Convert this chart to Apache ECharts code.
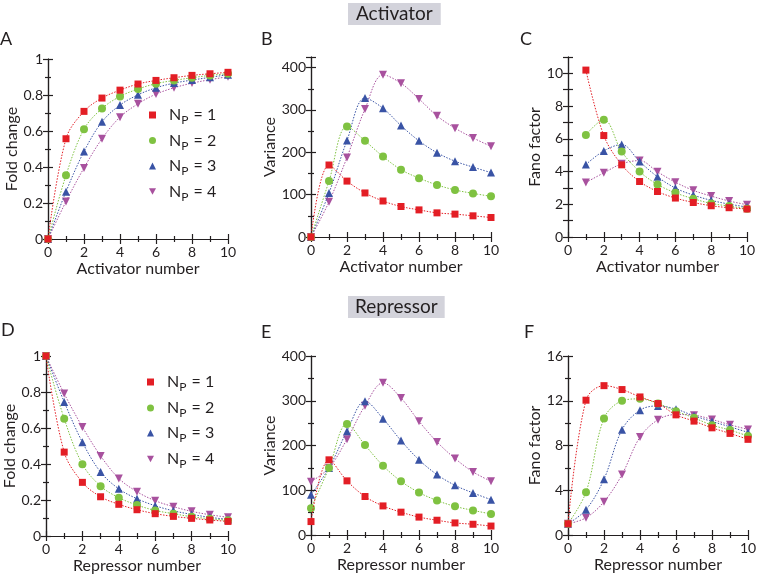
<!DOCTYPE html>
<html>
<head>
<meta charset="utf-8">
<script src="https://cdn.jsdelivr.net/npm/echarts@6/dist/echarts.min.js"></script>
<style>
html,body{margin:0;padding:0;background:#fff;}
#chart{width:757px;height:576px;}
</style>
</head>
<body>
<div id="chart"></div>
<script>
// ---------- data ----------
const xNumbers = [0, 1, 2, 3, 4, 5, 6, 7, 8, 9, 10];
const xNumbersFano = [1, 2, 3, 4, 5, 6, 7, 8, 9, 10];
const seriesNames = ['N_P = 1', 'N_P = 2', 'N_P = 3', 'N_P = 4'];

// A: activator fold change
const foldActNP1 = [0, 0.557, 0.709, 0.783, 0.827, 0.861, 0.881, 0.896, 0.909, 0.918, 0.926];
const foldActNP2 = [0, 0.354, 0.610, 0.725, 0.792, 0.833, 0.863, 0.881, 0.896, 0.909, 0.918];
const foldActNP3 = [0, 0.263, 0.486, 0.651, 0.744, 0.801, 0.840, 0.866, 0.883, 0.898, 0.913];
const foldActNP4 = [0, 0.208, 0.395, 0.557, 0.677, 0.751, 0.805, 0.840, 0.866, 0.885, 0.902];
// B: activator variance
const varActNP1 = [0, 170, 132, 104, 85, 72, 64, 57, 54, 50, 46];
const varActNP2 = [0, 132, 261, 227, 190, 159, 139, 123, 111, 103, 96];
const varActNP3 = [0, 104, 228, 328, 304, 263, 227, 199, 179, 165, 152];
const varActNP4 = [0, 83, 188, 302, 383, 363, 326, 286, 257, 234, 214];
// C: activator Fano factor (x = 1..10)
const fanoActNP1 = [10.2, 6.2, 4.41, 3.39, 2.78, 2.38, 2.11, 1.91, 1.79, 1.71];
const fanoActNP2 = [6.24, 7.17, 5.22, 4.0, 3.21, 2.70, 2.34, 2.05, 1.89, 1.73];
const fanoActNP3 = [4.43, 5.26, 5.65, 4.61, 3.68, 2.99, 2.56, 2.24, 2.01, 1.83];
const fanoActNP4 = [3.33, 3.92, 4.47, 4.67, 3.98, 3.35, 2.85, 2.50, 2.20, 1.97];
// D: repressor fold change
const foldRepNP1 = [1, 0.466, 0.298, 0.218, 0.176, 0.146, 0.124, 0.109, 0.098, 0.089, 0.081];
const foldRepNP2 = [1, 0.652, 0.399, 0.277, 0.213, 0.172, 0.142, 0.124, 0.107, 0.096, 0.087];
const foldRepNP3 = [1, 0.745, 0.521, 0.355, 0.262, 0.207, 0.168, 0.140, 0.120, 0.104, 0.092];
const foldRepNP4 = [1, 0.791, 0.606, 0.445, 0.320, 0.246, 0.196, 0.163, 0.137, 0.118, 0.104];
// E: repressor variance
const varRepNP1 = [30, 168, 121, 86, 65, 51, 40, 33, 27, 24, 20];
const varRepNP2 = [60, 150, 248, 201, 155, 120, 95, 77, 64, 55, 47];
const varRepNP3 = [90, 150, 232, 299, 260, 211, 168, 135, 111, 94, 79];
const varRepNP4 = [119, 150, 214, 289, 340, 306, 254, 208, 171, 141, 120];
// F: repressor Fano factor
const fanoRepNP1 = [1, 12.05, 13.35, 13.0, 12.34, 11.75, 10.74, 10.18, 9.58, 9.08, 8.55];
const fanoRepNP2 = [1, 3.83, 10.42, 11.99, 12.17, 11.75, 11.07, 10.47, 9.82, 9.38, 8.84];
const fanoRepNP3 = [1, 2.26, 4.99, 9.41, 11.16, 11.54, 11.25, 10.65, 10.15, 9.67, 9.17];
const fanoRepNP4 = [1, 1.54, 2.97, 5.40, 8.75, 10.30, 10.77, 10.71, 10.33, 9.85, 9.44];

// tick labels
const xTickLabels = ['0', '2', '4', '6', '8', '10'];

// ---------- styling ----------
const FONT = 'Lato';
const INK = '#231f20';
const colors = ['#e31e25', '#7fc241', '#3953a5', '#a8519e'];
const symbols = ['rect', 'circle', 'triangle', 'triangle'];
const symbolRot = [0, 0, 0, 180];
const symbolSizes = [7, 8, 8, 8];
const legendIcons = ['rect', 'circle', 'triangle', 'path://M0,0L10,0L5,9Z'];

const panels = [
  { grid: { left: 48, top: 59, width: 180, height: 180 }, ymin: 0, ymax: 1, yint: 0.2, ystep: 0.2,
    xName: 'Activator number', yName: 'Fold change', yGap: 24, xs: xNumbers,
    data: [foldActNP1, foldActNP2, foldActNP3, foldActNP4] },
  { grid: { left: 311, top: 57, width: 180, height: 180 }, ymin: 0, ymax: 425, yint: 100, ystep: 100,
    xName: 'Activator number', yName: 'Variance', yGap: 31, xs: xNumbers,
    data: [varActNP1, varActNP2, varActNP3, varActNP4] },
  { grid: { left: 568, top: 57, width: 179, height: 180 }, ymin: 0, ymax: 11, yint: 1, ystep: 2,
    xName: 'Activator number', yName: 'Fano factor', yGap: 21, xs: xNumbersFano,
    data: [fanoActNP1, fanoActNP2, fanoActNP3, fanoActNP4] },
  { grid: { left: 46, top: 356, width: 182, height: 180 }, ymin: 0, ymax: 1, yint: 0.2, ystep: 0.2,
    xName: 'Repressor number', yName: 'Fold change', yGap: 25, xs: xNumbers,
    data: [foldRepNP1, foldRepNP2, foldRepNP3, foldRepNP4] },
  { grid: { left: 311, top: 356, width: 180, height: 179 }, ymin: 0, ymax: 400, yint: 100, ystep: 100,
    xName: 'Repressor number', yName: 'Variance', yGap: 31, xs: xNumbers,
    data: [varRepNP1, varRepNP2, varRepNP3, varRepNP4] },
  { grid: { left: 568, top: 356, width: 180, height: 179 }, ymin: 0, ymax: 16, yint: 4, ystep: 4,
    xName: 'Repressor number', yName: 'Fano factor', yGap: 23, xs: xNumbers,
    data: [fanoRepNP1, fanoRepNP2, fanoRepNP3, fanoRepNP4] }
];

const grids = [], xAxes = [], yAxes = [], series = [];
const axisLineStyle = { color: INK, width: 1.2 };

panels.forEach((p, i) => {
  grids.push(Object.assign({ containLabel: false, outerBoundsMode: 'none' }, p.grid));
  const xBase = {
    type: 'value', gridIndex: i, min: 0, max: 10, interval: 2,
    axisLine: { show: true, lineStyle: axisLineStyle },
    axisTick: { show: true, inside: true, length: 5, lineStyle: { color: INK, width: 1.2 } },
    minorTick: { show: true, splitNumber: 2, length: 3, lineStyle: { color: INK, width: 1.2 } },
    splitLine: { show: false }, minorSplitLine: { show: false }
  };
  xAxes.push(Object.assign({}, xBase, {
    position: 'bottom',
    axisLabel: { show: true, margin: 6, fontFamily: FONT, fontSize: 14, color: INK,
      formatter: v => xTickLabels.indexOf(String(v)) >= 0 ? String(v) : '' },
    name: p.xName, nameLocation: 'middle', nameGap: 22,
    nameTextStyle: { fontFamily: FONT, fontSize: 16, color: INK }
  }));
  xAxes.push(Object.assign({}, xBase, { position: 'top', axisLabel: { show: false } }));
  const yBase = {
    type: 'value', gridIndex: i, min: p.ymin, max: p.ymax, interval: p.yint,
    axisLine: { show: true, lineStyle: axisLineStyle },
    axisTick: { show: true, inside: true, length: 5, lineStyle: { color: INK, width: 1.2 } },
    minorTick: { show: p.yint === p.ystep, splitNumber: 2, length: 3, lineStyle: { color: INK, width: 1.2 } },
    splitLine: { show: false }, minorSplitLine: { show: false }
  };
  yAxes.push(Object.assign({}, yBase, {
    position: 'left',
    axisLabel: { show: true, margin: 5, fontFamily: FONT, fontSize: 14, color: INK,
      formatter: v => {
        const r = Math.round(v / p.ystep * 1000) / 1000;
        return Math.abs(r - Math.round(r)) < 1e-6 ? String(+v.toFixed(2)) : '';
      } },
    name: p.yName, nameLocation: 'middle', nameGap: p.yGap, nameRotate: 90,
    nameTextStyle: { fontFamily: FONT, fontSize: 16, color: INK }
  }));
  yAxes.push(Object.assign({}, yBase, { position: 'right', axisLabel: { show: false } }));

  p.data.forEach((vals, k) => {
    series.push({
      type: 'line', name: seriesNames[k],
      xAxisIndex: 2 * i, yAxisIndex: 2 * i,
      data: vals.map((v, j) => [p.xs[j], v]),
      smooth: 0.35,
      symbol: symbols[k], symbolRotate: symbolRot[k], symbolSize: symbolSizes[k],
      showAllSymbol: true,
      itemStyle: { color: colors[k] },
      lineStyle: { color: colors[k], width: 1, type: [1.5, 1.5] },
      z: 10 - k,
      animation: false
    });
  });
});

// legends (panel A and panel D)
const legendSpots = [
  { left: 149, tops: [107, 132.5, 158, 183.5] },
  { left: 147, tops: [374, 400, 425, 451] }
];
const legends = [];
legendSpots.forEach(spot => {
  seriesNames.forEach((nm, k) => {
    legends.push({
      show: true, left: spot.left, top: spot.tops[k], padding: 0,
      itemWidth: 7, itemHeight: 7, selectedMode: false,
      data: [{ name: nm, icon: legendIcons[k] }],
      formatter: () => '{g|}N{s|P} = ' + (k + 1),
      textStyle: { fontFamily: FONT, fontSize: 16, color: INK,
        rich: { g: { width: 8 }, s: { fontSize: 12, fontFamily: FONT, color: INK, padding: [11, 1, 0, 0] } } }
    });
  });
});

const titleText = (text, left, top) => ({
  text, left, top, padding: 0,
  textStyle: { fontFamily: FONT, fontSize: 18, fontWeight: 'normal', color: INK }
});

const titles = [
  { text: 'Activator', left: 348, top: 3, padding: [1, 8, 1, 8], backgroundColor: '#d3d3db',
    textStyle: { fontFamily: FONT, fontSize: 19, fontWeight: 'normal', color: INK, lineHeight: 20 } },
  { text: 'Repressor', left: 348, top: 296, padding: [1, 7, 1, 7], backgroundColor: '#d3d3db',
    textStyle: { fontFamily: FONT, fontSize: 19, fontWeight: 'normal', color: INK, lineHeight: 20 } },
  titleText('A', 0, 30), titleText('B', 261, 30), titleText('C', 520, 30),
  titleText('D', 1, 321), titleText('E', 261, 323), titleText('F', 524, 323)
];

const chart = echarts.init(document.getElementById('chart'), null, { renderer: 'canvas' });
chart.setOption({
  animation: false,
  backgroundColor: '#ffffff',
  title: titles,
  legend: legends,
  grid: grids,
  xAxis: xAxes,
  yAxis: yAxes,
  series: series
});
</script>
</body>
</html>
